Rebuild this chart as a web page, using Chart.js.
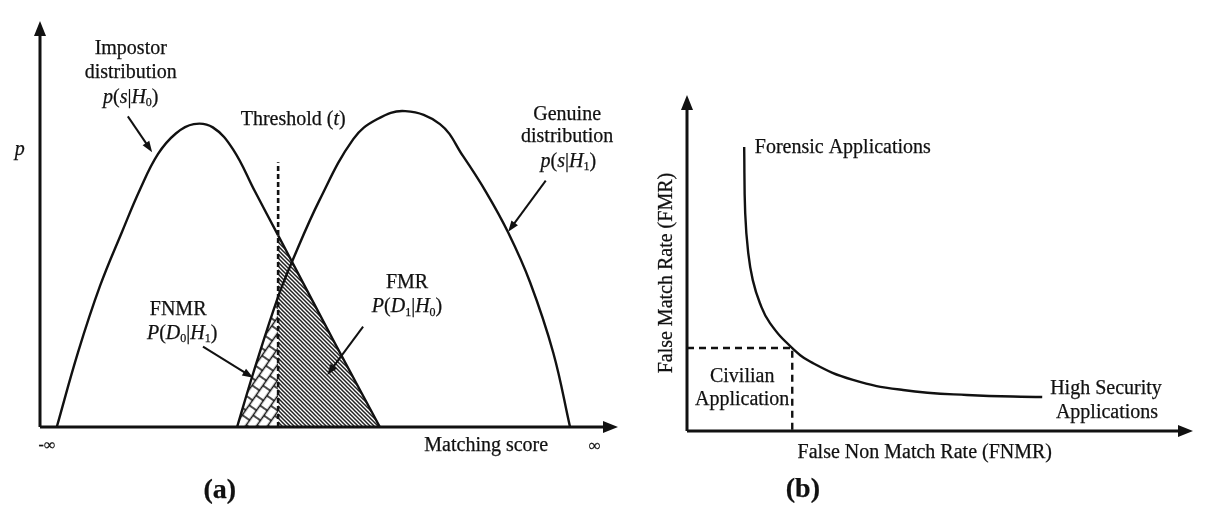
<!DOCTYPE html>
<html>
<head>
<meta charset="utf-8">
<script src="https://cdn.jsdelivr.net/npm/chart.js@4"></script>
<style>
  html, body { margin: 0; padding: 0; background: #fff; }
  #wrap { position: relative; width: 1223px; height: 524px; overflow: hidden; }
  #panelA { position: absolute; left: 0; top: 0; }
  #panelB { position: absolute; left: 620px; top: 0; }
</style>
</head>
<body>
<div id="wrap">
  <canvas id="panelA" width="620" height="524"></canvas>
  <canvas id="panelB" width="603" height="524"></canvas>
</div>
<script>
// --- data ---
// (a) score distributions, matching score 0..100, density p 0..1
const THRESHOLD = 41.2;
const thresholdTop = 0.652;
const impostorScore = [2.9, 6.6, 10.4, 14.2, 17.3, 20.4, 23.5, 26.6, 29.9, 33.4, 37.2, 41.2, 43.6, 51.0, 58.8];
const impostorP     = [0, 0.185, 0.348, 0.481, 0.585, 0.672, 0.723, 0.746, 0.738, 0.684, 0.580, 0.472, 0.407, 0.207, 0];
const genuineScore  = [34.1, 36.9, 41.2, 43.6, 48.4, 54.2, 58.3, 63.2, 69.2, 73.2, 77.2, 81.0, 84.8, 88.8, 91.7];
const genuineP      = [0, 0.133, 0.321, 0.407, 0.560, 0.709, 0.758, 0.778, 0.746, 0.667, 0.578, 0.479, 0.356, 0.183, 0];

// (b) ROC-like curve, FNMR vs FMR (0..100)
const fnmrRate = [11.3, 11.5, 12.1, 13.0, 14.4, 16.4, 20.8, 24.9, 32.8, 42.7, 55.3, 70.2];
const fmrRate  = [84.5, 64.9, 53.0, 44.9, 38.1, 32.1, 24.7, 20.2, 15.2, 12.2, 10.7, 10.1];
const civilianFnmr = 20.8;
const civilianFmr = 24.7;

const INK = '#111';
const FONT = '"Liberation Serif", "Times New Roman", serif';

// annotation arrows and labels, in data units of each panel
const arrowsA = [
  { from: [15.2, 0.765], to: [19.4, 0.677] },
  { from: [87.5, 0.607], to: [81.0, 0.481] },
  { from: [28.2, 0.198], to: [36.9, 0.121] },
  { from: [55.9, 0.247], to: [49.7, 0.128] }
];
const labelsA = [
  { at: [15.7, 0.931], parts: [['Impostor', 'n']] },
  { at: [15.7, 0.872], parts: [['distribution', 'n']] },
  { at: [15.7, 0.812], parts: [['p', 'i'], ['(', 'n'], ['s', 'i'], ['|', 'n'], ['H', 'i'], ['0', 's'], [')', 'n']] },
  { at: [43.8, 0.758], parts: [['Threshold (', 'n'], ['t', 'i'], [')', 'n']] },
  { at: [91.2, 0.770], parts: [['Genuine', 'n']] },
  { at: [91.2, 0.714], parts: [['distribution', 'n']] },
  { at: [91.4, 0.654], parts: [['p', 'i'], ['(', 'n'], ['s', 'i'], ['|', 'n'], ['H', 'i'], ['1', 's'], [')', 'n']] },
  { at: [23.9, 0.289], parts: [['FNMR', 'n']] },
  { at: [24.6, 0.230], parts: [['P', 'i'], ['(', 'n'], ['D', 'i'], ['0', 's'], ['|', 'n'], ['H', 'i'], ['1', 's'], [')', 'n']] },
  { at: [63.5, 0.356], parts: [['FMR', 'n']] },
  { at: [63.5, 0.296], parts: [['P', 'i'], ['(', 'n'], ['D', 'i'], ['1', 's'], ['|', 'n'], ['H', 'i'], ['0', 's'], [')', 'n']] },
  { at: [-3.5, 0.684], parts: [['p', 'i']] },
  { at: [1.2, -0.047], parts: [['-∞', 'n']], size: 16 },
  { at: [77.2, -0.047], parts: [['Matching score', 'n']] },
  { at: [96.0, -0.047], parts: [['∞', 'n']], size: 17 },
  { at: [31.1, -0.156], parts: [['(a)', 'b']], size: 28 }
];
const labelsB = [
  { at: [13.4, 84.2], parts: [['Forensic Applications', 'n']], align: 'left' },
  { at: [-3.95, 47.0], parts: [['False Match Rate (FMR)', 'n']], rotate: true },
  { at: [10.9, 16.1], parts: [['Civilian', 'n']] },
  { at: [10.9, 9.2], parts: [['Application', 'n']] },
  { at: [82.8, 12.5], parts: [['High Security', 'n']] },
  { at: [83.0, 5.4], parts: [['Applications', 'n']] },
  { at: [47.0, -6.5], parts: [['False Non Match Rate (FNMR)', 'n']] },
  { at: [22.9, -17.6], parts: [['(b)', 'b']], size: 28 }
];

// --- helpers ---
const toXY = (xs, ys) => xs.map((v, i) => ({ x: v, y: ys[i] }));

function makeHatch(ctx) {
  const t = document.createElement('canvas');
  t.width = 4; t.height = 4;
  const g = t.getContext('2d');
  g.fillStyle = '#fff'; g.fillRect(0, 0, 4, 4);
  g.strokeStyle = '#222'; g.lineWidth = 1.5;
  g.beginPath();
  g.moveTo(-1, -1); g.lineTo(5, 5);
  g.moveTo(-1, 3); g.lineTo(1, 5);
  g.moveTo(3, -1); g.lineTo(5, 1);
  g.stroke();
  return ctx.createPattern(t, 'repeat');
}

function makeBrick(ctx) {
  const t = document.createElement('canvas');
  t.width = 24; t.height = 18;
  const g = t.getContext('2d');
  g.fillStyle = '#fff'; g.fillRect(0, 0, 24, 18);
  g.strokeStyle = '#111'; g.lineWidth = 1.5;
  g.beginPath();
  g.moveTo(0, 4.5); g.lineTo(24, 4.5);
  g.moveTo(0, 13.5); g.lineTo(24, 13.5);
  g.moveTo(3, 4.5); g.lineTo(3, 13.5);
  g.moveTo(15, 4.5); g.lineTo(15, 13.5);
  g.moveTo(9, 13.5); g.lineTo(9, 18); g.moveTo(9, 0); g.lineTo(9, 4.5);
  g.moveTo(21, 13.5); g.lineTo(21, 18); g.moveTo(21, 0); g.lineTo(21, 4.5);
  g.stroke();
  const p = ctx.createPattern(t, 'repeat');
  p.setTransform(new DOMMatrix().rotateSelf(-55));
  return p;
}

function arrowHead(ctx, x0, y0, x1, y1, len, half) {
  const ang = Math.atan2(y1 - y0, x1 - x0);
  ctx.beginPath();
  ctx.moveTo(x1, y1);
  ctx.lineTo(x1 - len * Math.cos(ang) + half * Math.sin(ang), y1 - len * Math.sin(ang) - half * Math.cos(ang));
  ctx.lineTo(x1 - len * Math.cos(ang) - half * Math.sin(ang), y1 - len * Math.sin(ang) + half * Math.cos(ang));
  ctx.closePath();
  ctx.fill();
}

function fontOf(style, size) {
  if (style === 'i') return 'italic ' + size + 'px ' + FONT;
  if (style === 's') return Math.round(size * 0.62) + 'px ' + FONT;
  if (style === 'b') return 'bold ' + size + 'px ' + FONT;
  return size + 'px ' + FONT;
}

// text in the scan is slightly heavy: fill plus a hairline stroke
function drawRich(ctx, parts, x, y, size, align) {
  let w = 0;
  parts.forEach(([t, st]) => { ctx.font = fontOf(st, size); w += ctx.measureText(t).width; });
  let cx = align === 'left' ? x : x - w / 2;
  ctx.lineWidth = 0.25;
  parts.forEach(([t, st]) => {
    ctx.font = fontOf(st, size);
    const ty = st === 's' ? y + size * 0.28 : y;
    ctx.fillText(t, cx, ty);
    ctx.strokeText(t, cx, ty);
    cx += ctx.measureText(t).width;
  });
}

// axes with arrowheads, annotation arrows and labels
function sketchPlugin(arrows, labels) {
  return {
    id: 'sketch',
    afterDatasetsDraw(chart) {
      const { ctx, chartArea: a, scales: { x, y } } = chart;
      ctx.save();
      ctx.strokeStyle = INK;
      ctx.fillStyle = INK;
      ctx.lineWidth = 3;
      ctx.beginPath();
      ctx.moveTo(a.left, a.bottom); ctx.lineTo(a.left, a.top + 10);
      ctx.moveTo(a.left, a.bottom); ctx.lineTo(a.right - 10, a.bottom);
      ctx.stroke();
      arrowHead(ctx, a.left, a.bottom, a.left, a.top, 15, 6);
      arrowHead(ctx, a.left, a.bottom, a.right, a.bottom, 15, 6);

      ctx.lineWidth = 2;
      arrows.forEach(ar => {
        const x0 = x.getPixelForValue(ar.from[0]), y0 = y.getPixelForValue(ar.from[1]);
        const x1 = x.getPixelForValue(ar.to[0]), y1 = y.getPixelForValue(ar.to[1]);
        const ang = Math.atan2(y1 - y0, x1 - x0);
        ctx.beginPath();
        ctx.moveTo(x0, y0);
        ctx.lineTo(x1 - 6 * Math.cos(ang), y1 - 6 * Math.sin(ang));
        ctx.stroke();
        arrowHead(ctx, x0, y0, x1, y1, 11, 4);
      });

      ctx.textBaseline = 'middle';
      labels.forEach(lb => {
        const px = x.getPixelForValue(lb.at[0]), py = y.getPixelForValue(lb.at[1]);
        const size = lb.size || 20;
        if (lb.rotate) {
          ctx.save();
          ctx.translate(px, py);
          ctx.rotate(-Math.PI / 2);
          drawRich(ctx, lb.parts, 0, 0, size, 'center');
          ctx.restore();
        } else {
          drawRich(ctx, lb.parts, px, py, size, lb.align);
        }
      });
      ctx.restore();
    }
  };
}

function baseOptions(pad, xMax, yMax) {
  return {
    responsive: false,
    animation: false,
    devicePixelRatio: 1,
    events: [],
    layout: { padding: pad },
    plugins: { legend: { display: false }, tooltip: { enabled: false } },
    elements: { point: { radius: 0, hitRadius: 0 } },
    scales: {
      x: { type: 'linear', min: 0, max: xMax, display: false },
      y: { type: 'linear', min: 0, max: yMax, display: false }
    }
  };
}

// --- panel (a) ---
const ctxA = document.getElementById('panelA').getContext('2d');
const fmrHatch = makeHatch(ctxA);
const fnmrBrick = makeBrick(ctxA);
const NONE = 'rgba(0,0,0,0)';

new Chart(ctxA, {
  type: 'line',
  data: {
    datasets: [
      {
        label: 'Threshold',
        data: [{ x: THRESHOLD, y: 0 }, { x: THRESHOLD, y: thresholdTop }],
        borderColor: INK, borderWidth: 2.6, borderDash: [5, 3],
        tension: 0, fill: false, order: 0, clip: false
      },
      {
        label: 'Genuine',
        data: toXY(genuineScore, genuineP),
        borderColor: INK, borderWidth: 2.4,
        tension: 0.4,
        fill: 'origin', backgroundColor: NONE,
        segment: { backgroundColor: c => c.p1.parsed.x <= THRESHOLD ? fnmrBrick : NONE },
        order: 1, clip: false
      },
      {
        label: 'Impostor',
        data: toXY(impostorScore, impostorP),
        borderColor: INK, borderWidth: 2.4,
        tension: 0.4,
        fill: 'origin', backgroundColor: NONE,
        segment: { backgroundColor: c => c.p0.parsed.x >= THRESHOLD ? fmrHatch : NONE },
        order: 2, clip: false
      }
    ]
  },
  options: baseOptions({ left: 40, top: 21, right: 2, bottom: 97 }, 100, 1),
  plugins: [sketchPlugin(arrowsA, labelsA)]
});

// --- panel (b) ---
const ctxB = document.getElementById('panelB').getContext('2d');
new Chart(ctxB, {
  type: 'line',
  data: {
    datasets: [
      {
        label: 'Civilian operating point',
        data: [{ x: 0, y: civilianFmr }, { x: civilianFnmr, y: civilianFmr }, { x: civilianFnmr, y: 0 }],
        borderColor: INK, borderWidth: 2.4, borderDash: [7, 5],
        tension: 0, fill: false, clip: false
      },
      {
        label: 'FMR vs FNMR',
        data: toXY(fnmrRate, fmrRate),
        borderColor: INK, borderWidth: 2.4,
        tension: 0.45, fill: false, clip: false
      }
    ]
  },
  options: baseOptions({ left: 67, top: 95, right: 30, bottom: 93 }, 100, 100),
  plugins: [sketchPlugin([], labelsB)]
});
</script>
</body>
</html>
